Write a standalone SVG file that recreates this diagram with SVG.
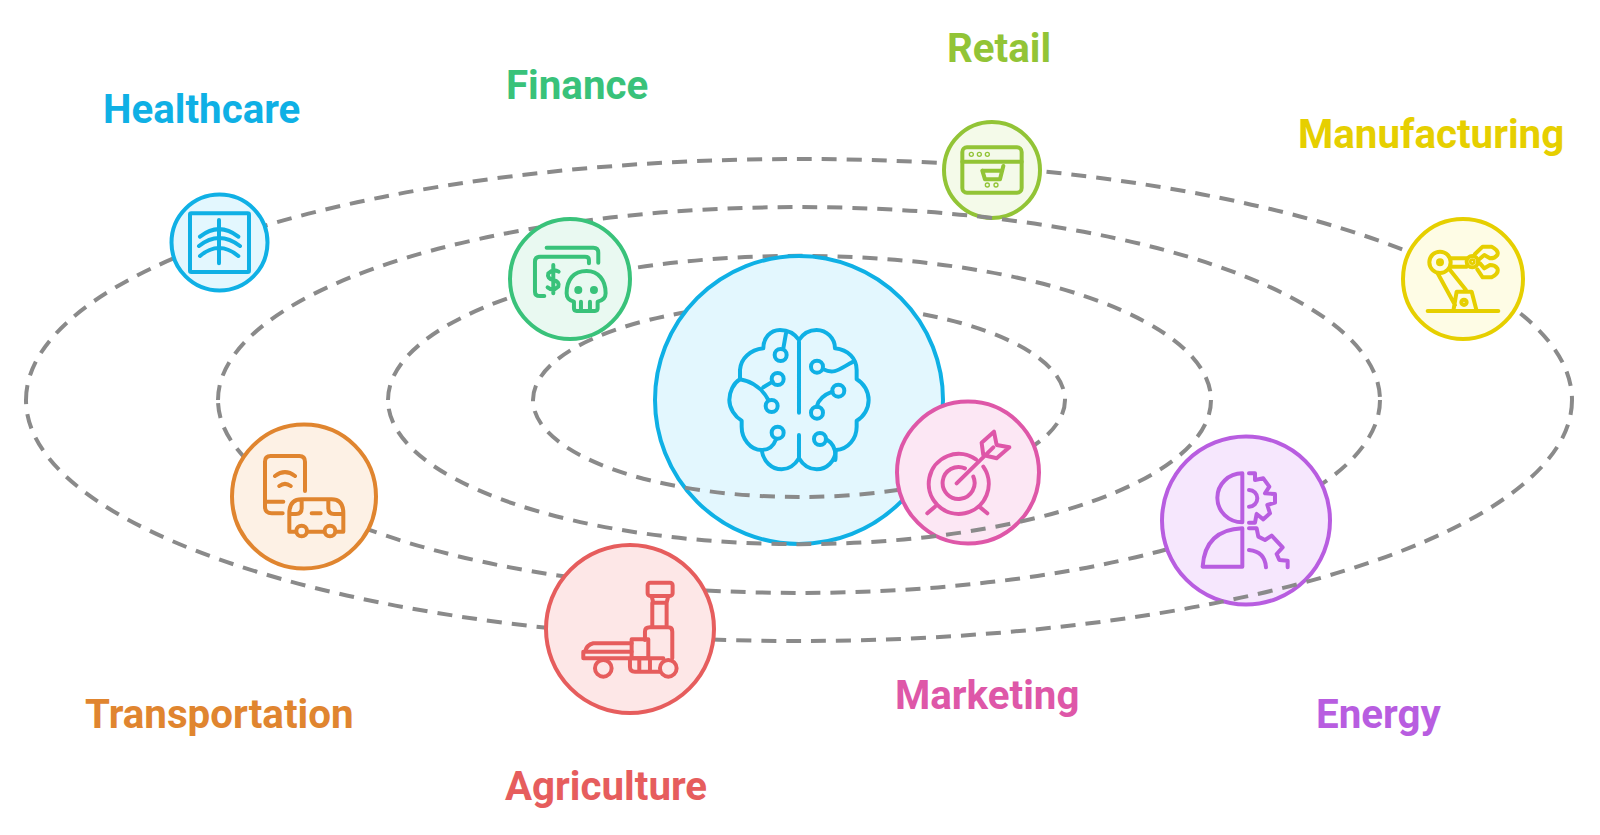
<svg xmlns="http://www.w3.org/2000/svg" width="1600" height="835" viewBox="0 0 1600 835">
<style>
.o{fill:none;stroke:#8a8a8a;stroke-width:4;stroke-dasharray:15 10}
.l{font-family:Roboto,"Liberation Sans",sans-serif;font-weight:700;font-size:40.300px}
.i{fill:none;stroke-width:12;stroke-linecap:round;stroke-linejoin:round}
.n{stroke-width:4}
.blue{stroke:#0fb0e5}.bluef{fill:#e3f7fe;stroke:#0fb0e5}.bluet{fill:#0fb0e5}
.gr{stroke:#39c27a}.grf{fill:#e9f9f1;stroke:#39c27a}.grt{fill:#39c27a}
.li{stroke:#92c436}.lif{fill:#f4fae9;stroke:#92c436}.lit{fill:#92c436}
.ye{stroke:#e6cf00}.yef{fill:#fefce5;stroke:#e6cf00}.yet{fill:#e6cf00}
.pu{stroke:#b85de0}.puf{fill:#f6e7fd;stroke:#b85de0}.put{fill:#b85de0}
.pk{stroke:#de57a8}.pkf{fill:#fce7f4;stroke:#de57a8}.pkt{fill:#de57a8}
.re{stroke:#e65d5d}.ref{fill:#fde7e7;stroke:#e65d5d}.ret{fill:#e65d5d}
.or{stroke:#e0852f}.orf{fill:#fdf1e5;stroke:#e0852f}.ort{fill:#e0852f}
</style>
<g id="orbits-back">
<path class="o" d="M26,400A773,241 0 0 1 1572,400"/>
</g>
<g id="healthcare">
<circle class="n bluef" cx="219.500" cy="242.500" r="48"/>
<g class="i blue" transform="translate(150 180) scale(.3333)">
<rect x="120" y="100" width="177" height="176" rx="4"/>
<path d="M207,120V250M150,170Q207,125 265,170M147,198Q207,150 270,198M150,228Q207,180 265,228"/>
</g>
<text class="l bluet" x="103" y="123">Healthcare</text>
</g>
<g id="manufacturing">
<circle class="n yef" cx="1463" cy="279" r="60"/>
<g class="i ye" transform="translate(1390 210) scale(.3333)">
<circle cx="150" cy="157" r="32"/><circle cx="150" cy="157" r="6"/>
<circle cx="247" cy="155" r="17"/><circle cx="247" cy="155" r="4"/>
<path d="M182,145H230M182,170H230M143,190L195,285M180,180L228,240M190,303L200,245H245L260,303"/>
<circle cx="222" cy="277" r="8"/>
<path d="M113,303H325M255,132L278,110H305Q328,122 322,135Q315,145 300,145L283,135L265,150M262,178L278,202H305Q328,190 322,175Q315,165 300,165L283,175L270,160"/>
</g>
<text class="l yet" x="1298" y="148">Manufacturing</text>
</g>
<g id="retail">
<circle class="n lif" cx="992" cy="170" r="48"/>
<g class="i li" transform="translate(930 110) scale(.3333)">
<rect x="97" y="112" width="178" height="136" rx="14"/>
<path d="M97,155H275M157,182H212M220,168L210,208H165L157,182"/>
<circle cx="124" cy="133" r="2"/><circle cx="148" cy="133" r="2"/><circle cx="172" cy="133" r="2"/>
<circle cx="172" cy="225" r="2"/><circle cx="198" cy="225" r="2"/>
</g>
<text class="l lit" x="947" y="62">Retail</text>
</g>
<g id="orbits-mid-back">
<path class="o" d="M218,400A581,193 0 0 1 1380,400"/>
<path class="o" d="M388,400A411,144 0 0 1 1211,400"/>
</g>
<g id="finance">
<circle class="n grf" cx="570" cy="279" r="60"/>
<g class="i gr" transform="translate(150 180) scale(.3333)">
<path d="M1190,203H1330Q1345,203 1345,218V248M1317,250V240Q1317,230 1305,230H1170Q1155,230 1155,245V335Q1155,348 1170,348H1183"/>
<path d="M1226,275Q1210,265 1195,280Q1190,295 1210,300Q1230,305 1225,320Q1210,335 1193,322M1210,255V340"/>
<path d="M1310,273C1270,273 1250,300 1250,340Q1250,360 1272,365V385Q1272,393 1280,393H1335Q1343,393 1343,385V365Q1367,360 1367,340C1367,300 1345,273 1310,273ZM1293,365V390M1320,365V390"/>
<circle cx="1285" cy="330" r="6"/><circle cx="1332" cy="330" r="6"/>
</g>
<text class="l grt" x="506" y="99">Finance</text>
</g>
<g id="orbit-inner-back">
<path class="o" d="M533,400A266,97 0 0 1 1065,400"/>
</g>
<g id="ai">
<circle class="n bluef" cx="799" cy="400" r="144"/>
<g class="i blue" transform="translate(640 250) scale(.3333)">
<path d="M477,270C460,245 440,240 420,240C390,240 370,265 370,295C330,300 302,325 300,360V388C280,400 268,425 268,450C268,475 285,500 305,512V530C305,565 330,600 365,600C370,635 395,658 425,658C445,658 465,645 477,625C489,645 509,658 530,658C560,658 585,635 588,600C625,598 650,565 650,530V512C672,500 686,475 686,450C686,425 672,400 650,388V360C650,325 625,300 585,295C585,265 560,240 530,240C510,240 490,250 477,270Z"/>
<path d="M477,275V488M477,555V625M438,250L430,295M370,412L398,395M300,388C340,395 370,420 385,450M365,600C385,600 400,590 408,568M550,358C585,375 600,355 640,335M577,425C550,435 535,450 530,470M558,567C580,580 590,600 586,630"/>
<circle cx="422" cy="315" r="18"/><circle cx="413" cy="387" r="18"/><circle cx="395" cy="468" r="18"/><circle cx="413" cy="548" r="18"/>
<circle cx="531" cy="350" r="18"/><circle cx="595" cy="422" r="18"/><circle cx="531" cy="488" r="18"/><circle cx="540" cy="567" r="18"/>
</g>
</g>
<g id="orbit-3-front">
<path class="o" d="M1380,400A581,193 0 0 1 218,400"/>
</g>
<g id="energy">
<circle class="n puf" cx="1246" cy="520.500" r="84"/>
<g class="i pu" transform="translate(1150 430) scale(.3333)">
<path d="M277,130A75,73.500 0 0 0 277,277ZM277,295Q165,300 158,410H277Z"/>
<path d="M297,130H315V150L340,145L358,170L345,190L375,192V218L352,225L360,250L340,268L320,252L315,278H297M297,180A25,25 0 0 1 297,230"/>
<path d="M297,295H320L325,320L345,330L365,317L398,352L380,372L388,390L413,392V412M297,360Q345,365 348,412"/>
</g>
<text class="l put" x="1316" y="728">Energy</text>
</g>
<g id="transportation">
<circle class="n orf" cx="304" cy="496.500" r="72"/>
<g class="i or" transform="translate(220 410) scale(.3333)">
<path d="M255,243V155Q255,138 238,138H152Q135,138 135,155V290Q135,310 155,310H188M135,275H190M165,198Q195,175 225,198M178,228Q195,215 212,228"/>
<path d="M225,365H208V310Q208,268 245,268H335Q370,268 370,310V365H350M310,365H265M245,270V295Q245,312 228,312H208M325,270V295Q325,312 342,312H370M275,310H302"/>
<circle cx="245" cy="363" r="16"/><circle cx="330" cy="363" r="16"/>
</g>
<text class="l ort" x="85" y="728">Transportation</text>
</g>
<g id="orbit-4-front">
<path class="o" d="M1572,400A773,241 0 0 1 26,400"/>
</g>
<g id="agriculture">
<circle class="n ref" cx="630" cy="629" r="84"/>
<g class="i re" transform="translate(220 410) scale(.3333)">
<rect x="1283" y="518" width="75" height="40" rx="8"/>
<path d="M1295,558L1300,578H1340L1345,558M1297,578V650M1340,578V650M1275,690V665Q1275,652 1290,652H1345Q1357,652 1357,665V745"/>
<rect x="1235" y="688" width="50" height="57"/>
<path d="M1235,700H1120Q1100,705 1095,725H1090V745H1330M1095,725H1235M1230,745V770Q1230,785 1245,785H1320M1258,750V785M1290,750V785"/>
<circle cx="1150" cy="775" r="25"/><circle cx="1345" cy="775" r="25"/>
</g>
<text class="l ret" x="505" y="800">Agriculture</text>
</g>
<g id="orbit-inner-front">
<path class="o" d="M1065,400A266,97 0 0 1 533,400"/>
</g>
<g id="marketing">
<circle class="n pkf" cx="968" cy="472.500" r="71"/>
<g class="i pk" transform="translate(640 250) scale(.3333)">
<path d="M1030,650A90,90 0 1 1 1008,628M1000,680A48,48 0 1 1 975,655M950,700L1060,592M1025,578L1062,545L1070,585L1108,592L1070,625L1030,615ZM885,770L862,790M1018,770L1042,790"/>
</g>
<text class="l pkt" x="895" y="709">Marketing</text>
</g>
<g id="orbit-2-front">
<path class="o" d="M1211,400A411,144 0 0 1 388,400"/>
</g>
</svg>
